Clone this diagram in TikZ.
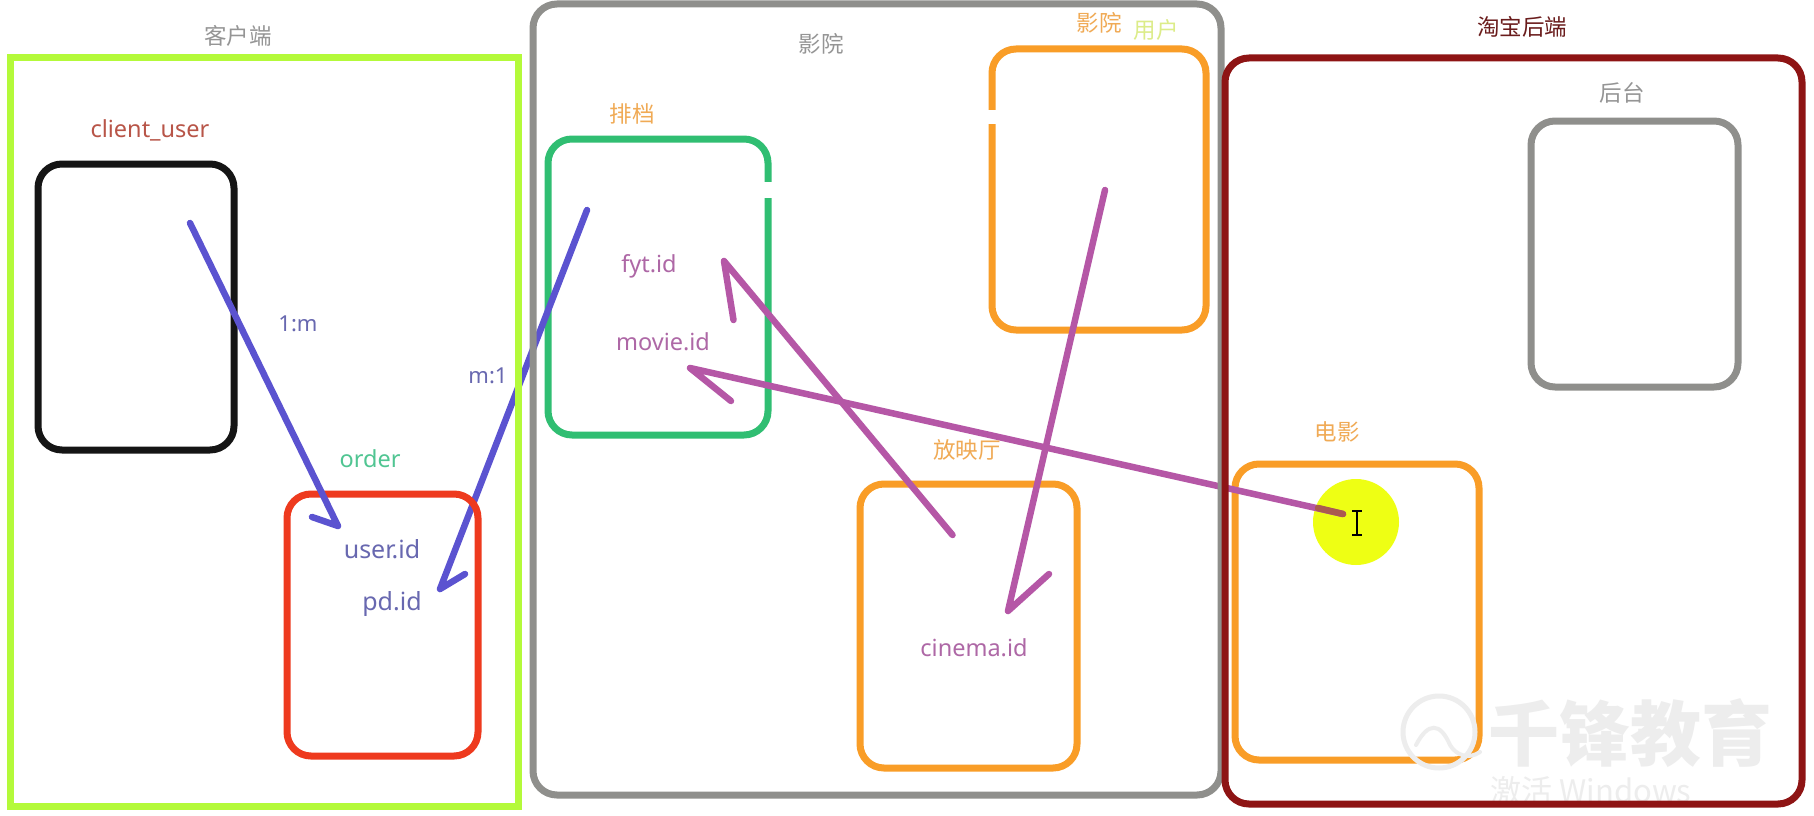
\documentclass[tikz,border=0pt]{standalone}
\usepackage{fontspec}
\setmainfont{Noto Sans}
\newfontfamily\cjk{Noto Sans CJK SC}
\definecolor{cLime}{HTML}{B4FA3A}
\definecolor{cGrey}{HTML}{8F8F8C}
\definecolor{cBlack}{HTML}{151515}
\definecolor{cRed}{HTML}{EE3A1E}
\definecolor{cGreen}{HTML}{30BE72}
\definecolor{cOrange}{HTML}{F99D27}
\definecolor{cMaroon}{HTML}{8E1414}
\definecolor{cBlue}{HTML}{5B53D0}
\definecolor{cPink}{HTML}{B557A6}
\definecolor{cBrown}{HTML}{AA5A50}
\definecolor{cYellow}{HTML}{EEFF14}
\definecolor{tBlue}{HTML}{6868B0}
\definecolor{tPink}{HTML}{AE68A6}
\definecolor{tOrange}{HTML}{F0AA55}
\definecolor{tGrey}{HTML}{959595}
\definecolor{tRed}{HTML}{B85548}
\definecolor{tGreen}{HTML}{50C592}
\definecolor{tLime}{HTML}{DCEC88}
\definecolor{tMaroon}{HTML}{6A1C1C}
\definecolor{cWater}{HTML}{EDEDED}
\tikzset{
  boxbase/.style={draw=#1,line width=7pt,rounded corners=24pt,inner sep=0pt,outer sep=0pt},
  lbl/.style={text=#1,inner sep=0pt,font=\fontsize{23.5}{26}\selectfont},
  cjklbl/.style={text=#1,inner sep=0pt,font=\cjk\fontsize{22.5}{26}\selectfont},
  link/.style={draw=#1,line width=6.5pt,line cap=round,line join=round},
}
\begin{document}
\begin{tikzpicture}[x=1pt,y=-1pt]
\useasboundingbox (0,0) rectangle (1814,816);
\fill[white] (0,0) rectangle (1814,816);
% coordinates of connector ends
\coordinate (a1s) at (190,223); \coordinate (a1t) at (338,526); \coordinate (a1b) at (312,517);
\coordinate (a2s) at (587,210); \coordinate (a2t) at (440,589); \coordinate (a2b) at (465,574);
\coordinate (p1s) at (952.5,535); \coordinate (p1t) at (724,261); \coordinate (p1b) at (733.5,320);
\coordinate (p2s) at (1343,514); \coordinate (p2t) at (690,368); \coordinate (p2b) at (731,401);
\coordinate (p2m) at (1318,508);
\coordinate (p3s) at (1105,190); \coordinate (p3t) at (1008,611); \coordinate (p3b) at (1049,574);
% inner boxes below the arrows
\node[boxbase=cGreen,minimum width=220pt,minimum height=296pt] (paidang) at (658,287) {};
\fill[white] (760,182) rectangle (776,198);
\node[boxbase=cOrange,minimum width=214pt,minimum height=281pt] (yhbox) at (1099,189.5) {};
\fill[white] (984,110) rectangle (1000,124);
\node[boxbase=cOrange,minimum width=217pt,minimum height=284pt] (hall) at (968.5,626) {};
\node[boxbase=cOrange,minimum width=244pt,minimum height=296pt] (movie) at (1357,612) {};
\node[fill=cYellow,circle,minimum size=86pt,inner sep=0pt,outer sep=0pt] (spot) at (1356,522) {};
% watermark
\draw[cWater,line width=5pt] (1439,732) circle (36pt);
\draw[cWater,line width=4pt,line cap=round] (1416,745) .. controls (1428,722) and (1440,722) .. (1450,745) .. controls (1456,755) and (1468,760) .. (1480,752);
\node[text=cWater,inner sep=0pt,font=\cjk\bfseries\fontsize{71}{74}\selectfont] (wm) at (1630,733) {千锋教育};
\node[text=cWater,inner sep=0pt,font=\cjk\fontsize{31}{33}\selectfont] (win) at (1591,791) {激活 Windows};
% connectors that pass under the big frames
\draw[link=cBlue] (a2s) -- (a2t) -- (a2b);
\draw[link=cPink] (p2s) -- (p2t) -- (p2b);
\draw[link=cBrown] (p2s) -- (p2m);
\draw[link=cPink] (p1s) -- (p1t) -- (p1b);
\draw[link=cPink] (p3s) -- (p3t) -- (p3b);
% big frames
\node[draw=cLime,line width=7pt,inner sep=0pt,outer sep=0pt,minimum width=508pt,minimum height=748pt] (client) at (264,432) {};
\node[boxbase=cGrey,minimum width=688pt,minimum height=791pt] (cinema) at (877,399.5) {};
\node[boxbase=cMaroon,minimum width=577pt,minimum height=746pt] (backend) at (1513.5,431) {};
\node[boxbase=cGrey,minimum width=207pt,minimum height=266pt] (admin) at (1634.5,254) {};
\node[boxbase=cBlack,minimum width=196pt,minimum height=286pt] (cuser) at (136,307) {};
\node[boxbase=cRed,minimum width=191pt,minimum height=262pt] (order) at (382.5,625) {};
\draw[link=cBlue] (a1s) -- (a1t) -- (a1b);
% text cursor
\draw[black,line width=1.2pt] (1352,511) -- (1362,511) (1357,511) -- (1357,535) (1352,535) -- (1362,535);
% labels
\node[cjklbl=tGrey] (t1) at (238,36) {客户端};
\node[lbl=tRed] (t2) at (150,130) {client\_user};
\node[lbl=tBlue,font=\fontsize{22}{26}\selectfont] (t3) at (298,324) {1:m};
\node[lbl=tBlue,font=\fontsize{22}{26}\selectfont] (t4) at (488,376) {m:1};
\node[lbl=tGreen] (t5) at (370,459) {order};
\node[lbl=tBlue,font=\fontsize{25}{28}\selectfont] (t6) at (382,549) {user.id};
\node[lbl=tBlue,font=\fontsize{25}{28}\selectfont] (t7) at (392,604) {pd.id};
\node[cjklbl=tGrey] (t8) at (821,44) {影院};
\node[cjklbl=tOrange] (t9) at (632,114) {排档};
\node[lbl=tPink] (t10) at (649,266) {fyt.id};
\node[lbl=tPink] (t11) at (663,342) {movie.id};
\node[cjklbl=tOrange] (t12) at (1099,23) {影院};
\node[cjklbl=tLime] (t13) at (1156,30) {用户};
\node[cjklbl=tOrange] (t14) at (967,450) {放映厅};
\node[lbl=tPink] (t15) at (974,648) {cinema.id};
\node[cjklbl=tMaroon] (t16) at (1522,27) {淘宝后端};
\node[cjklbl=tGrey] (t17) at (1622,93) {后台};
\node[cjklbl=tOrange] (t18) at (1337,432) {电影};
\end{tikzpicture}
\end{document}
